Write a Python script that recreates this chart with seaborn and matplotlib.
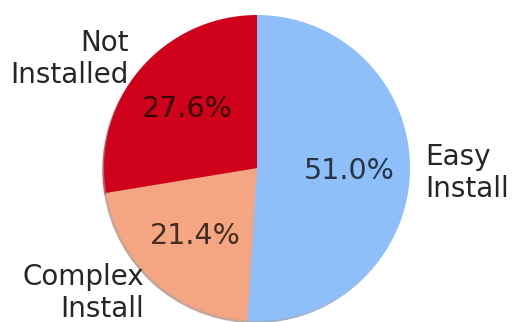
import matplotlib
matplotlib.use("Agg")
import matplotlib.pyplot as plt
import seaborn as sns

sns.set_theme(style="white")
plt.rcParams['font.family'] = ['DejaVu Sans']

# Installation difficulty shares
categories = ["Easy\nInstall", "Complex\nInstall", "Not\nInstalled"]
shares = [51.0, 21.4, 27.6]
colors = ["#8fbff8", "#f4a582", "#d0021b"]

fig = plt.figure(figsize=(5.24, 3.22), dpi=100)
# pie of radius 1 spans ~153 px, centred near (257, 168) px
ax = fig.add_axes([0.1255, -0.1157, 0.72996, 1.18789])
wedges, texts, autotexts = ax.pie(
    shares,
    labels=categories,
    colors=colors,
    autopct="%1.1f%%",
    startangle=90,
    counterclock=False,
    shadow={"ox": -0.008, "oy": -0.01, "shade": 0.35, "alpha": 0.6},
    wedgeprops={"linewidth": 0},
    textprops={"fontsize": 20, "color": "#262626"},
)
for t in autotexts:
    t.set_fontsize(20.5)
    t.set_color((0, 0, 0, 0.72))
ax.set_xlim(-1.25, 1.25)
ax.set_ylim(-1.25, 1.25)
ax.set_aspect("equal")
ax.axis("off")

fig.savefig("out.png", dpi=100)
